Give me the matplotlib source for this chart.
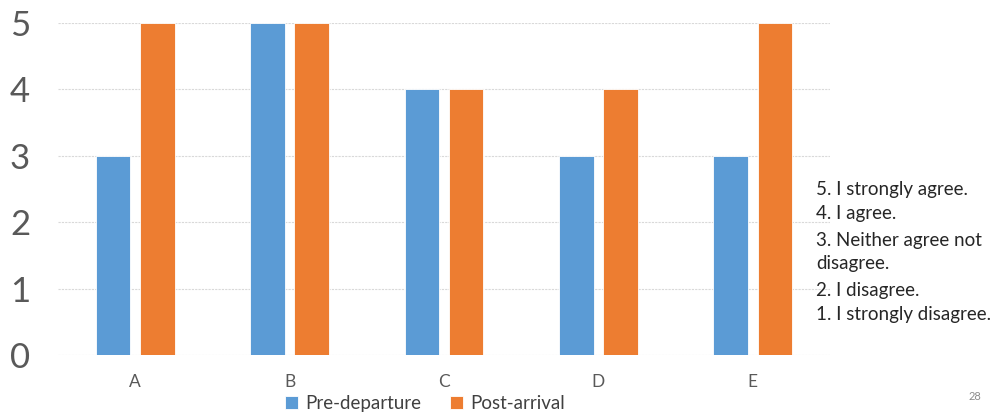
import numpy as np
import matplotlib
matplotlib.use("Agg")
from matplotlib import pyplot as plt

categories = ["A", "B", "C", "D", "E"]
pre_departure = [3, 5, 4, 3, 3]
post_arrival = [5, 5, 4, 4, 5]
series_names = ["Pre-departure", "Post-arrival"]
scale_notes = ["5. I strongly agree.", "4. I agree.", "3. Neither agree not",
               "disagree.", "2. I disagree.", "1. I strongly disagree."]

plt.rcParams['font.family'] = ['Lato', 'DejaVu Sans']

fig = plt.figure(figsize=(10, 4.15), dpi=100)
ax = fig.add_axes([0.058, 0.1446, 0.772, 0.80])

X = np.arange(len(categories))
width = 0.225
off = 0.143
ax.bar(X - off, pre_departure, width=width, color="#5B9BD5", label=series_names[0],
       edgecolor="white", linewidth=0.6, zorder=3)
ax.bar(X + off, post_arrival, width=width, color="#ED7D31", label=series_names[1],
       edgecolor="white", linewidth=0.6, zorder=3)

ax.set_xlim(-0.5, len(categories) - 0.5)
ax.set_ylim(0, 5)
ax.set_yticks(range(6))
ax.set_xticks(X)
ax.set_xticklabels(categories)
ax.tick_params(axis='y', labelsize=25, colors="#595959", length=0, pad=20)
ax.tick_params(axis='x', labelsize=12.5, colors="#595959", length=0, pad=14)
for s in ax.spines.values():
    s.set_visible(False)
ax.yaxis.grid(True, color="#d9d9d9", linestyle=(0, (2, 1)), linewidth=0.8, zorder=0)
ax.set_axisbelow(True)

leg = fig.legend(loc="center", bbox_to_anchor=(0.425, 0.028), ncol=2, frameon=False,
                 fontsize=13.5, handlelength=0.7, handleheight=0.7, handletextpad=0.4,
                 columnspacing=1.5)
for t in leg.get_texts():
    t.set_color("#404040")

ys = [190, 213, 240, 264, 290, 314]
for txt, y in zip(scale_notes, ys):
    fig.text(0.816, 1 - y / 415, txt, fontsize=13.5, color="#262626", va="center", ha="left")

fig.text(0.975, 1 - 396 / 415, "28", fontsize=8, color="#8c8c8c", va="center", ha="center")

fig.savefig("out.png", dpi=100)
